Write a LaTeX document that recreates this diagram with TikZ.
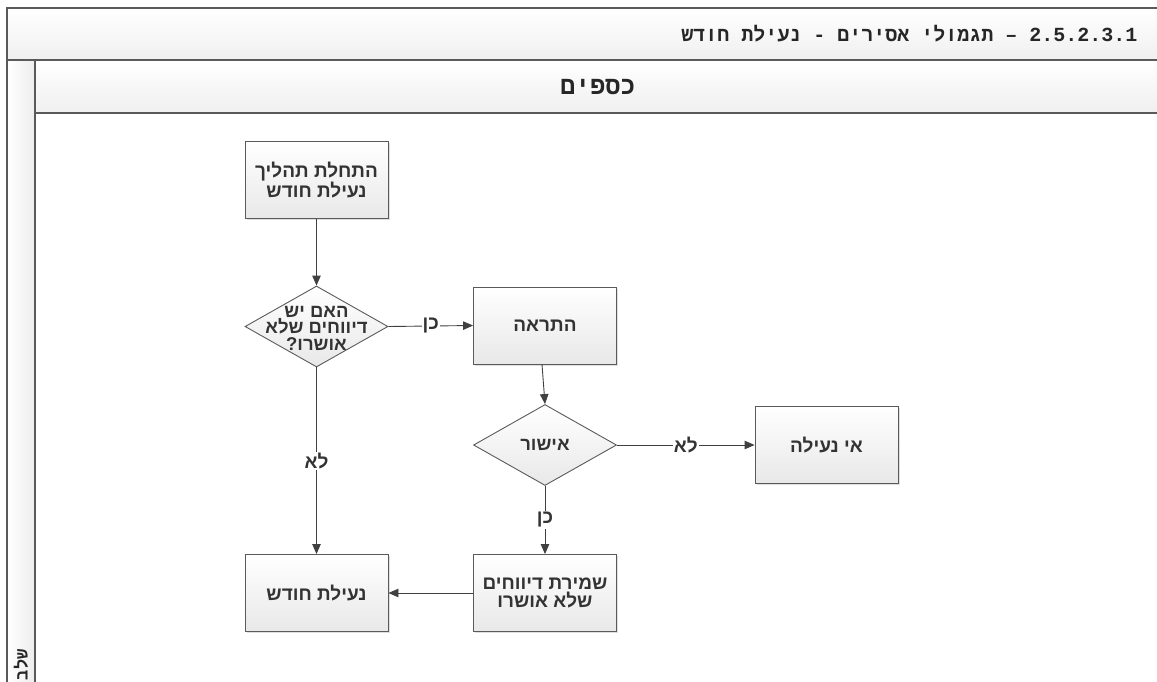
\documentclass[tikz,border=0pt]{standalone}
\usepackage{fontspec}
\usetikzlibrary{shapes.geometric,shadows,arrows.meta}
\TeXXeTstate=1
\newfontfamily\hebn[Script=Hebrew]{Liberation Sans}
\newfontfamily\hebm[Script=Hebrew]{Liberation Mono}
\newcommand\heb[1]{\beginR#1\endR}
\definecolor{bord}{HTML}{5A5A5A}
\definecolor{edgec}{HTML}{404040}
\begin{document}
\begin{tikzpicture}[x=1pt,y=-1pt,
  box/.style={draw=bord, line width=0.9pt, minimum width=143pt, minimum height=77pt,
    top color=white, bottom color=black!9, inner sep=0pt, align=center,
    drop shadow={shadow xshift=1.5pt, shadow yshift=-1.5pt, opacity=0.25},
    font=\hebn\bfseries\fontsize{19}{18}\selectfont, text=black!80},
  dec/.style={diamond, draw=bord, line width=0.9pt, minimum width=143pt, minimum height=81pt,
    inner sep=0pt, aspect=1.77, top color=white, bottom color=black!9},
  dtext/.style={inner sep=0pt, align=center, font=\hebn\bfseries\fontsize{18.5}{16.5}\selectfont, text=black!80},
  lab/.style={fill=white, inner sep=1pt, font=\hebn\bfseries\fontsize{19}{18}\selectfont, text=black!80},
  arr/.style={draw=edgec, line width=0.9pt, -{Triangle[length=10pt,width=8.5pt]}},
  frame/.style={draw=bord, line width=1.3pt},
  hdr/.style={font=\hebm\bfseries\fontsize{20}{22}\selectfont, text=black!85}
]
\useasboundingbox (0,0) rectangle (1157,681);
\begin{scope}
\clip (0,0) rectangle (1157,681);
% frame
\shade[top color=white, bottom color=black!6] (7,8) rectangle (1160,60);
\shade[left color=white, right color=black!7] (7,60) rectangle (35,690);
\shade[top color=white, bottom color=black!6] (35,60) rectangle (1160,113);
\draw[frame] (7,690) -- (7,8) -- (1160,8);
\draw[frame] (7,60) -- (1160,60);
\draw[frame] (35,60) -- (35,690);
\draw[frame] (35,113) -- (1160,113);
\node[hdr, anchor=east] (title) at (1141,34) {\heb{\beginL 2.5.2.3.1\endL{} – תגמולי אסירים - נעילת חודש}};
\node[hdr, font=\hebm\bfseries\fontsize{25}{28}\selectfont] (lane) at (598,87) {\heb{כספים}};
\node[hdr, font=\hebm\bfseries\fontsize{17}{20}\selectfont, rotate=90, anchor=east] (phase) at (21,646) {\heb{שלב}};
\end{scope}
% nodes
\node[box] (s) at (316.5,180) {\heb{התחלת תהליך}\\\heb{נעילת חודש}};
\node[dec] (d1) at (316.5,326.5) {};
\node[dtext] (d1t) at (316.5,328) {\heb{האם יש}\\\heb{דיווחים שלא}\\\heb{אושרו?}};
\node[box] (t1) at (545,325.5) {\heb{התראה}};
\node[dec] (d2) at (545,445) {};
\node[dtext] (d2t) at (d2) {\heb{אישור}};
\node[box] (n1) at (826.5,445) {\heb{אי נעילה}};
\node[box] (sv) at (545,593) {\heb{שמירת דיווחים}\\\heb{שלא אושרו}};
\node[box] (e) at (316.5,593) {\heb{נעילת חודש}};
% edges
\draw[arr] (s.south) -- (d1.north);
\draw[arr] (d1.east) -- node[lab]{\heb{כן}} (t1.west);
\draw[arr] ([xshift=-3pt]t1.south) -- (d2.north);
\draw[arr] (d2.east) -- node[lab]{\heb{לא}} (n1.west);
\draw[arr] (d2.south) -- node[lab]{\heb{כן}} (sv.north);
\draw[arr] (d1.south) -- node[lab]{\heb{לא}} (e.north);
\draw[arr] (sv.west) -- (e.east);
\end{tikzpicture}
\end{document}
